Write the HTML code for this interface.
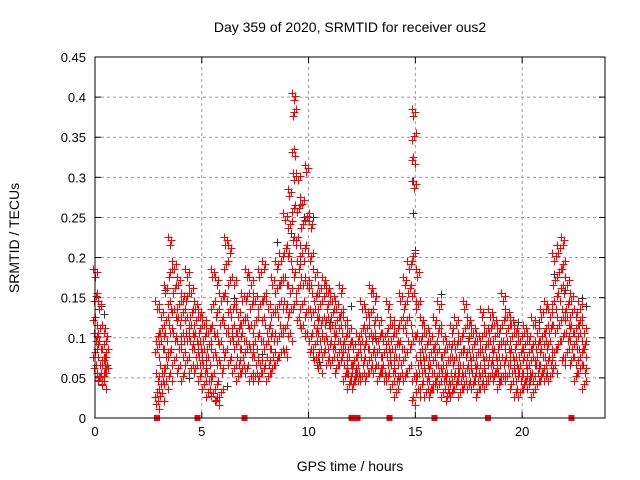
<!DOCTYPE html>
<html><head><meta charset="utf-8"><style>
body{margin:0;background:#fff;}
svg{display:block;font-family:"Liberation Sans",sans-serif;}
</style></head><body>
<svg id="chart" width="640" height="480" viewBox="0 0 640 480" xmlns="http://www.w3.org/2000/svg">
<rect width="640" height="480" fill="#fff"/>
<text x="350" y="32" font-size="14" text-anchor="middle">Day 359 of 2020, SRMTID for receiver ous2</text>
<text transform="translate(19,238) rotate(-90)" font-size="14" text-anchor="middle">SRMTID / TECUs</text>
<text x="350" y="471" font-size="14" text-anchor="middle">GPS time / hours</text>
<g id="grid"></g>
<g id="marks" shape-rendering="crispEdges"></g>
<rect x="95" y="57" width="510" height="361" fill="none" stroke="#000" stroke-width="1"/>
</svg>
<script>
const xTicks=[0,5,10,15,20];
const yTicks=[0,0.05,0.1,0.15,0.2,0.25,0.3,0.35,0.4,0.45];
const yTickLabels=["0","0.05","0.1","0.15","0.2","0.25","0.3","0.35","0.4","0.45"];
const redTimes=[0.0,0.2,0.4,0.5,2.9,3.1,3.3,3.5,3.7,3.9,4.1,4.3,4.5,4.7,4.9,5.1,5.3,5.5,5.7,5.9,6.1,6.3,6.5,6.7,6.9,7.1,7.3,7.5,7.7,7.9,8.1,8.3,8.5,8.7,8.9,9.1,9.3,9.5,9.7,9.9,10.1,10.3,10.5,10.7,10.9,11.1,11.3,11.5,11.7,11.9,12.1,12.3,12.5,12.7,12.9,13.1,13.3,13.5,13.7,13.9,14.1,14.3,14.5,14.7,14.9,15.1,15.3,15.5,15.7,15.9,16.1,16.3,16.5,16.7,16.9,17.1,17.3,17.5,17.7,17.9,18.1,18.3,18.5,18.7,18.9,19.1,19.3,19.5,19.7,19.9,20.1,20.3,20.5,20.7,20.9,21.1,21.3,21.5,21.7,21.9,22.1,22.3,22.5,22.7,22.9];
const redVals=[[18,15,12,10,8,6],[14,11,9,7,5,4.5],[11,9,7,6,5,4],[10,8,7,6],[14,10,8,5,3,1.5],[13,11,9,6,4,2.5],[16,12,10,8,6,4],[22,18,14,11,8,5],[19,16,13,10,7],[17,14,12,9,6],[15,13,10,8,5],[18,15,12,10,7],[16,13,11,9,6],[14,12,10,8,6],[13,11,9,7,5],[12,10,8,6,4],[11,9,7,5,3],[18,14,11,8,5,2.5],[17,13,10,7,4,2],[15,12,9,6,3],[22,19,15,11,8],[21,17,13,10,7],[17,14,11,9,6],[13,11,9,7,5],[15,12,10,8,6],[18,15,12,9,6],[17,14,11,8,5],[15,12,9,7,5],[18,14,10,7,5],[19,15,12,9,6],[14,11,9,7,5],[17,13,10,8,6],[19,16,13,10,7],[20,17,14,11,8],[25,21,17,14,11,8],[28,24,20,16,13,10],[40,38,33,30,26,22,18,14],[30,26,22,19,16,12],[27,24,20,17,14,11],[31,25,21,17,13,10],[24,20,16,13,10,8],[18,15,13,11,9,7],[16,14,12,10,8,6],[17,15,12,10,8],[16,14,12,9,7],[15,13,11,9,7],[14,12,10,8,6],[16,13,11,9,7],[12,10,8,6,5],[11,9,7,5,4],[9,7,6,5,4],[10,8,6,5],[14,11,9,7,5],[13,11,9,7,5],[16,13,10,8,6],[15,12,10,8,6],[12,10,8,6,5],[10,8,6,5],[14,11,9,7,5],[12,10,8,6,4],[11,9,7,5,3],[15,12,9,7,5],[17,14,11,8,5],[19,16,12,9,6],[38,35,32,29,20,15,10,5,2],[18,14,10,7,5,3],[12,10,8,6,4],[11,9,7,5,3],[10,8,6,4,3],[12,9,7,5,4],[14,11,8,6,4],[10,8,6,5,3],[9,7,5,4,2.5],[11,9,7,5,3],[12,9,7,5,4],[10,8,6,5,3],[14,11,8,6,4],[12,10,8,6,4],[11,9,7,5,4],[10,8,6,5,3],[13,10,8,6,4],[11,9,7,5,4],[13,11,9,7,5],[12,10,8,6,5],[11,9,7,5,4],[15,12,9,7,5],[13,11,9,7,5],[12,10,8,6,4],[11,9,7,5,3],[10,8,6,5,3],[11,9,7,5,4],[10,8,6,5,4],[12,9,7,5,3],[11,9,7,6,4],[13,10,8,6,5],[14,11,9,7,5],[13,11,9,7,5],[20,17,14,11,8,6],[21,18,15,12,9],[22,19,16,13,10,7],[17,14,12,10,8],[15,13,11,9,7],[13,11,9,7,5],[14,12,10,8,6],[11,9,8,6,4]];
const blackTimes=[0.3,0.4,3.3,4.4,6.2,6.5,7.8,8.5,9.2,9.8,10.2,10.5,11.0,12.0,13.1,14.9,14.9,15.0,16.2,17.5,19.8,20.8,21.5,22.0,22.8,23.0];
const blackVals=[0.14,0.13,0.16,0.05,0.04,0.15,0.08,0.22,0.23,0.25,0.25,0.07,0.12,0.14,0.10,0.295,0.255,0.21,0.155,0.10,0.12,0.12,0.18,0.16,0.15,0.14];
const gapTimes=[2.9,4.8,7.0,12.0,12.1,12.2,12.3,13.8,15.9,18.4,22.3];

const NS="http://www.w3.org/2000/svg";
const X0=95,X1=605,Y0=418,Y1=57,TMAX=23.88,VMAX=0.45;
function xs(t){return X0+t/TMAX*(X1-X0);}
function ys(v){return Y0-v/VMAX*(Y0-Y1);}
const grid=document.getElementById('grid'),marks=document.getElementById('marks');
function mk(tag,attrs,parent){const e=document.createElementNS(NS,tag);for(const k in attrs)e.setAttribute(k,attrs[k]);parent.appendChild(e);return e;}
yTicks.forEach((v,i)=>{
  const y=ys(v);
  if(i>0&&i<yTicks.length-1){const g=mk('line',{x1:X0,x2:X1,y1:y,y2:y,stroke:'#999','stroke-dasharray':'3,3'},grid);
  
  }
  mk('line',{x1:X0,x2:X0+6,y1:y,y2:y,stroke:'#000'},grid);
  mk('line',{x1:X1,x2:X1-6,y1:y,y2:y,stroke:'#000'},grid);
  const t=mk('text',{x:X0-9,y:y+5,'font-size':'13','text-anchor':'end'},grid);t.textContent=yTickLabels[i];
  
  
});
xTicks.forEach(v=>{
  const x=xs(v);
  if(v>0){const g=mk('line',{x1:x,x2:x,y1:Y0,y2:Y1,stroke:'#999','stroke-dasharray':'3,3'},grid);
  
  }
  mk('line',{x1:x,x2:x,y1:Y0,y2:Y0-6,stroke:'#000'},grid);
  mk('line',{x1:x,x2:x,y1:Y1,y2:Y1+6,stroke:'#000'},grid);
  const t=mk('text',{x:x,y:Y0+18,'font-size':'13','text-anchor':'middle'},grid);t.textContent=String(v);
  
  
});
function plus(x,y,c,name){
  x=Math.round(x)+0.5;y=Math.round(y)+0.5;
  const p=mk('path',{d:`M${x-4},${y}h8M${x},${y-4}v8`,stroke:c,'stroke-width':'1.2',fill:'none'},marks);
  
  
}
blackTimes.forEach((t,i)=>plus(xs(t),ys(blackVals[i]),'#333','black-point'));
const jitterT=[-0.08,0,0.08],jitterPx=[-3,2,-1];
redTimes.forEach((t,i)=>{
  redVals[i].forEach((v,j)=>{
    jitterT.forEach((dt,k)=>{
      plus(xs(t+dt+((j%2)*0.03)),ys(v/100)+jitterPx[(k+j)%3]*1.5,'#f00','red-point');
    });
  });
});
gapTimes.forEach(t=>{
  const r=mk('rect',{x:xs(t)-3,y:Y0-3,width:6,height:6,fill:'#f00'},marks);
  
  
});
</script>
</body></html>
